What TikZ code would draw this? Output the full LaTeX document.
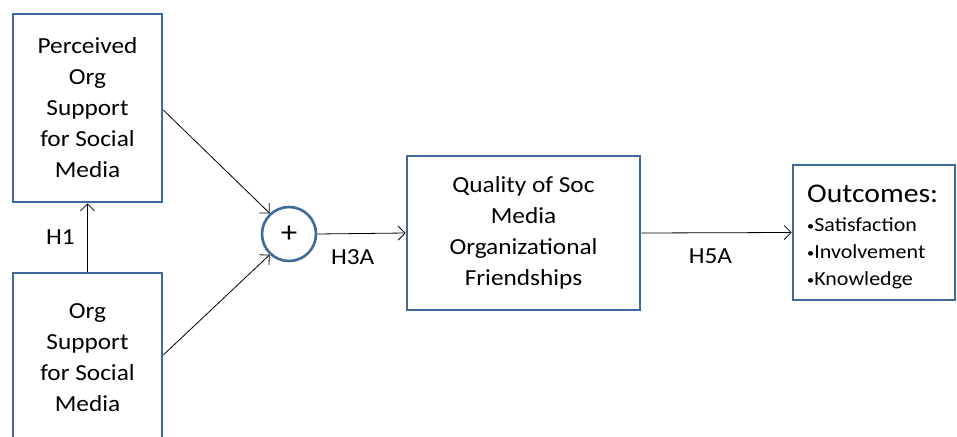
\documentclass[tikz,border=0pt]{standalone}
\usepackage{fontspec}
\setmainfont{Carlito}[FakeStretch=1.1]
\usepackage{tikz}
\usetikzlibrary{arrows.meta,positioning,calc}
\definecolor{boxblue}{HTML}{3F6A9A}
\newcommand{\blt}{{\fontsize{13}{13}\selectfont\raisebox{1.5pt}{\textbullet}}}

\begin{document}
\begin{tikzpicture}[x=1pt,y=-1pt,font=\fontsize{23}{31}\selectfont,>={Straight Barb[length=7pt,width=14pt]}]
\tikzset{var/.style={draw=boxblue,line width=2.6pt,align=center,inner sep=0pt}, ar/.style={->,line width=0.8pt,black}, lab/.style={font=\fontsize{23}{25}\selectfont}}
\clip (0,0) rectangle (957,436);
\node[var,minimum width=149pt,minimum height=188pt] (pos) at (87.5,108) {Perceived\\Org\\Support\\for Social\\Media};
\node[var,minimum width=149pt,minimum height=170pt] (os) at (87.5,358) {Org\\Support\\for Social\\Media};
\node[circle,draw=boxblue,line width=2.6pt,minimum size=54pt,inner sep=0pt,font=\fontsize{30}{30}\selectfont] (sum) at (289,234) {+};
\node[var,minimum width=233pt,minimum height=154pt] (qual) at (523.5,233) {Quality of Soc\\Media\\Organizational\\Friendships};
\node[var,minimum width=162pt,minimum height=135pt] (out) at (874,232.5) {};
\node[anchor=north west,align=left,inner sep=0pt,font=\fontsize{20}{27}\selectfont] (outtxt) at (807,185) {{\fontsize{27}{28}\selectfont Outcomes:}\\[2pt]
\blt Satisfaction\\\blt Involvement\\\blt Knowledge};
\draw[ar] (os.north) -- node[lab,left=9pt]{H1} (pos.south);
\draw[ar] ($(pos.east)+(0,2)$) -- (sum.133);
\draw[ar] ($(os.east)+(0,-3)$) -- (sum.-133);
\draw[ar] (sum.east) -- node[lab,below=12pt,pos=0.4]{H3A} (qual.west);
\draw[ar] (qual.east) -- node[lab,below=12pt,pos=0.46]{H5A} (out.west);
\end{tikzpicture}
\end{document}
